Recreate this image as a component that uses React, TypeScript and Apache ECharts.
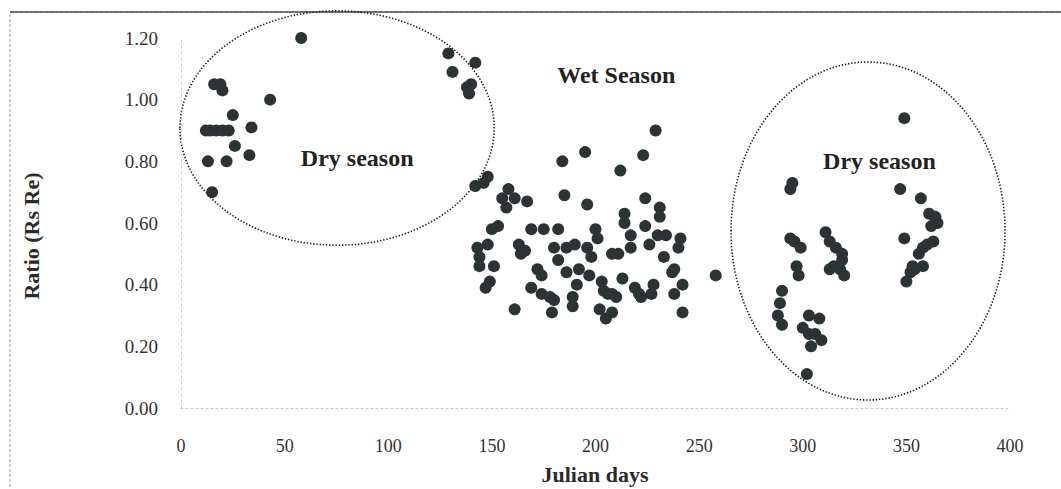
import React, { useEffect, useRef } from "react";
import * as echarts from "echarts";

// Julian day / Rs:Re ratio observations
const dryEarly: [number, number][] = [
  [58, 1.2], [16, 1.05], [19, 1.05], [20, 1.03], [43, 1.0], [25, 0.95],
  [12, 0.9], [14, 0.9], [17, 0.9], [20, 0.9], [23, 0.9], [34, 0.91],
  [26, 0.85], [33, 0.82], [13, 0.8], [22, 0.8], [15, 0.7],
  [129, 1.15], [142, 1.12], [131, 1.09], [138, 1.04], [140, 1.05], [139, 1.02],
];

const wet: [number, number][] = [
  [148, 0.75], [146, 0.73], [142, 0.72], [158, 0.71], [155, 0.68], [161, 0.68],
  [167, 0.67], [157, 0.65], [184, 0.8], [185, 0.69], [195, 0.83], [196, 0.66],
  [153, 0.59], [150, 0.58], [169, 0.58], [175, 0.58], [182, 0.58], [200, 0.58],
  [201, 0.55], [143, 0.52], [148, 0.53], [144, 0.49], [163, 0.53], [166, 0.51],
  [164, 0.5], [180, 0.52], [186, 0.52], [190, 0.53], [196, 0.52], [198, 0.49],
  [182, 0.48], [144, 0.46], [151, 0.46], [172, 0.45], [174, 0.43], [186, 0.44],
  [192, 0.45], [197, 0.43], [149, 0.41], [147, 0.39], [169, 0.39], [174, 0.37],
  [178, 0.36], [180, 0.35], [189, 0.36], [191, 0.4], [189, 0.33], [161, 0.32],
  [179, 0.31],
  [229, 0.9], [223, 0.82], [212, 0.77], [224, 0.68], [214, 0.63], [214, 0.6],
  [231, 0.65], [231, 0.62], [224, 0.59], [217, 0.56], [217, 0.52], [226, 0.53],
  [230, 0.56], [234, 0.56], [241, 0.55], [240, 0.52], [208, 0.5], [211, 0.5],
  [233, 0.49], [237, 0.44], [238, 0.45], [213, 0.42], [203, 0.41], [204, 0.38],
  [206, 0.37], [208, 0.37], [210, 0.36], [219, 0.39], [221, 0.37], [222, 0.36],
  [228, 0.4], [227, 0.37], [242, 0.4], [238, 0.37], [258, 0.43], [202, 0.32],
  [205, 0.29], [208, 0.31], [242, 0.31],
];

const dryLate: [number, number][] = [
  [294, 0.71], [295, 0.73], [294, 0.55], [296, 0.54], [299, 0.52], [297, 0.46],
  [298, 0.43], [311, 0.57], [313, 0.54], [316, 0.52], [319, 0.5], [319, 0.48],
  [315, 0.46], [318, 0.45], [320, 0.43], [313, 0.45], [290, 0.38], [289, 0.34],
  [288, 0.3], [290, 0.27], [303, 0.3], [308, 0.29], [300, 0.26], [303, 0.24],
  [306, 0.24], [309, 0.22], [304, 0.2], [302, 0.11],
  [349, 0.94], [347, 0.71], [357, 0.68], [361, 0.63], [364, 0.62], [365, 0.6],
  [362, 0.59], [349, 0.55], [360, 0.53], [363, 0.54], [358, 0.52], [356, 0.5],
  [353, 0.46], [358, 0.46], [352, 0.44], [350, 0.41], [354, 0.45],
];

const xTicks = [0, 50, 100, 150, 200, 250, 300, 350, 400];

// Season annotations in data units: [centerX, centerY, radiusX (days), radiusY (ratio)]
const seasonRings: [number, number, number, number][] = [
  [75.3, 0.908, 75.8, 0.38],
  [331.5, 0.574, 66.1, 0.548],
];
const seasonLabels: { text: string; at: [number, number] }[] = [
  { text: "Wet Season", at: [210, 1.08] },
  { text: "Dry season", at: [85, 0.81] },
  { text: "Dry season", at: [337, 0.8] },
];

const SERIF = '"Liberation Serif", "Times New Roman", serif';
const DOT = "#2c3334";

export default function App() {
  const ref = useRef<HTMLDivElement>(null);

  useEffect(() => {
    if (!ref.current) return;
    const chart = echarts.init(ref.current, null, { renderer: "svg" });
    const all = [...dryEarly, ...wet, ...dryLate];

    chart.setOption({
      animation: false,
      backgroundColor: "#ffffff",
      grid: { left: 181, right: 51, top: 38, bottom: 81 },
      xAxis: {
        type: "value",
        min: 0,
        max: 400,
        interval: 50,
        axisLine: { show: true, lineStyle: { color: "#c4c4c4", type: [2, 3], width: 1 } },
        axisTick: { show: false },
        splitLine: { show: false },
        axisLabel: {
          margin: 29,
          fontFamily: SERIF,
          fontSize: 18,
          color: "#333333",
          formatter: (v: number) => (xTicks.includes(v) ? String(v) : ""),
        },
      },
      yAxis: {
        type: "value",
        min: 0,
        max: 1.2,
        interval: 0.2,
        axisLine: { show: true, lineStyle: { color: "#d0d0d0", type: [2, 4], width: 1 } },
        axisTick: { show: false },
        splitLine: { show: false },
        axisLabel: {
          margin: 23,
          fontFamily: SERIF,
          fontSize: 19,
          color: "#333333",
          formatter: (v: number) => v.toFixed(2),
        },
      },
      series: [
        {
          type: "scatter",
          data: all,
          symbol: "circle",
          symbolSize: 12,
          itemStyle: { color: DOT, opacity: 1 },
        },
      ],
    });

    const px = (p: [number, number]) => chart.convertToPixel({ gridIndex: 0 }, p) as number[];

    const rings = seasonRings.map(([cx, cy, rx, ry]) => {
      const c = px([cx, cy]);
      const e = px([cx + rx, cy + ry]);
      return {
        type: "ellipse",
        silent: true,
        shape: { cx: c[0], cy: c[1], rx: Math.abs(e[0] - c[0]), ry: Math.abs(c[1] - e[1]) },
        style: { fill: "none", stroke: "#1e1e1e", lineWidth: 1.6, lineDash: [1.4, 1.8] },
      };
    });

    const labels = seasonLabels.map((l) => {
      const p = px(l.at);
      return {
        type: "text",
        silent: true,
        x: p[0],
        y: p[1],
        style: {
          text: l.text,
          font: `bold 24px ${SERIF}`,
          fill: "#222222",
          align: "center",
          verticalAlign: "middle",
        },
      };
    });

    chart.setOption({
      graphic: [
        {
          type: "rect",
          silent: true,
          shape: { x: 10, y: 12, width: 1100, height: 520 },
          style: { fill: "none", stroke: "#9a9a9a", lineWidth: 1, lineDash: [3, 2] },
        },
        {
          type: "line",
          silent: true,
          shape: { x1: 10, y1: 12, x2: 1061, y2: 12 },
          style: { stroke: "#4a4a4a", lineWidth: 1.6 },
        },
        ...rings,
        ...labels,
        {
          type: "text",
          silent: true,
          x: 595,
          y: 474,
          style: {
            text: "Julian days",
            font: `bold 22px ${SERIF}`,
            fill: "#2a2a2a",
            align: "center",
            verticalAlign: "middle",
          },
        },
        {
          type: "text",
          silent: true,
          x: 31,
          y: 236,
          rotation: Math.PI / 2,
          style: {
            text: "Ratio (Rs Re)",
            font: `bold 22px ${SERIF}`,
            fill: "#2a2a2a",
            align: "center",
            verticalAlign: "middle",
          },
        },
      ],
    });

    return () => chart.dispose();
  }, []);

  return <div ref={ref} style={{ width: 1061, height: 489, position: "absolute", left: 0, top: 0 }} />;
}
